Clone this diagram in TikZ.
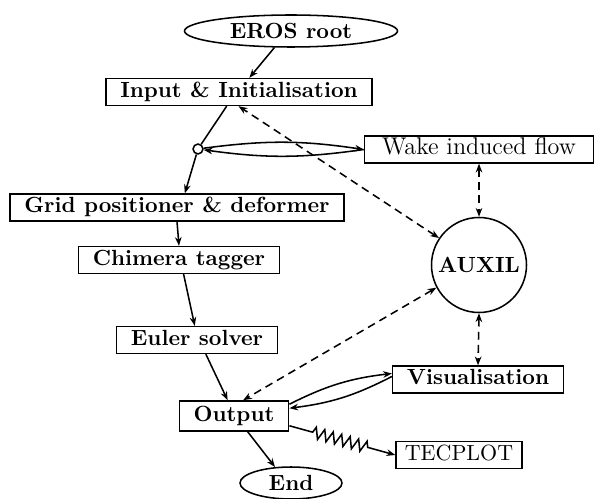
\documentclass[tikz,border=0pt]{standalone}
\usetikzlibrary{
  shapes.geometric,
  arrows.meta,
  decorations.pathmorphing,
}

\begin{document}
\begin{tikzpicture}[x=0.016cm, y=-0.016cm, line width=0.7pt, >={Stealth[length=4pt,width=3pt]},
  box/.style={draw, rectangle, font=\bfseries, inner xsep=6.5pt, inner ysep=1.6pt,
    text height=7pt, text depth=2pt},
  term/.style={draw, ellipse, font=\bfseries, inner sep=1pt},
  aux/.style={dashed, dash pattern=on 3.6pt off 2.4pt, <->},
  lens/.style={->, bend left=#1},
  zig/.style={->, decorate, decoration={zigzag, segment length=4pt, amplitude=2.6pt,
    pre length=11pt, post length=12pt}},
]
\useasboundingbox (0,0) rectangle (601,499);
\node[term, minimum width=213*0.016cm, minimum height=32*0.016cm] (eros) at (291,31) {EROS root};
\node[box] (input) at (239,92) {Input \& Initialisation};
\node[draw, circle, inner sep=0pt, minimum size=4.5pt] (junc) at (198,149) {};
\node[box, font=\fontsize{11}{13}\selectfont, inner xsep=8pt] (wake) at (479,149.5) {Wake induced flow};
\node[box] (grid) at (177,207.5) {Grid positioner \& deformer};
\node[box] (chimera) at (179,260) {Chimera tagger};
\node[box] (euler) at (197,340) {Euler solver};
\node[draw, circle, font=\bfseries, minimum size=95*0.016cm, inner sep=0pt] (auxil) at (479,265) {AUXIL};
\node[box, minimum height=30*0.016cm] (output) at (234,416) {Output};
\node[box] (vis) at (478,379.5) {Visualisation};
\node[box, font=\normalfont, inner xsep=4pt] (tecplot) at (459,455) {TECPLOT};
\node[term, minimum width=102*0.016cm, minimum height=32*0.016cm] (stop) at (291,483) {End};
% main flow
\draw[->] (eros.-135) -- (input.54);
\draw (input.-131) -- (junc);
\draw[->] (junc) -- (grid.61);
\draw[->] (grid.south) -- (chimera.north);
\draw[->] (chimera.-72) -- (euler.99);
\draw[->] (euler.-58) -- (output.112);
\draw[->] (output.-49) -- (stop.135);
% auxiliary links
\draw[aux] (auxil.146) -- (input.-92);
\draw[aux] (auxil.208) -- (output.60);
\draw[aux] (wake.south) -- (auxil.north);
\draw[aux] (auxil.south) -- (vis.north);
\draw[lens=8] (junc) to (wake.west);
\draw[lens=8] (wake.west) to (junc);
\draw[lens=10] (output.12) to (vis.176);
\draw[lens=10] (vis.178) to (output.8);
\draw[zig] (output.-10) -- (tecplot.west);
\end{tikzpicture}
\end{document}
